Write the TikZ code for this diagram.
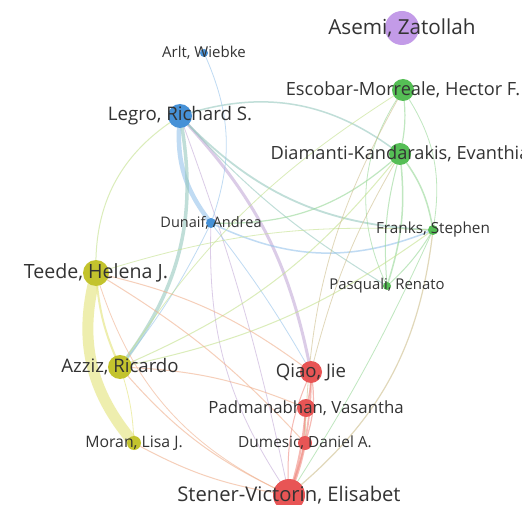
\documentclass[tikz,border=0pt]{standalone}
\usepackage{fontspec}
\setmainfont{Open Sans}
\begin{document}
\begin{tikzpicture}[x=1pt,y=-1pt,
  author/.style={circle,inner sep=0pt,draw=none},
  lbl/.style={text=black!80,inner sep=0pt,font=\fontsize{#1}{#1}\selectfont},
  link/.style={line width=#1,opacity=0.6,line cap=round},
  link/.default=1pt]
\definecolor{cblue}{RGB}{70,145,215}
\definecolor{cgreen}{RGB}{85,190,85}
\definecolor{colive}{RGB}{195,195,45}
\definecolor{cred}{RGB}{232,85,85}
\definecolor{cpurple}{RGB}{195,155,232}
\definecolor{eblue}{RGB}{150,195,235}
\definecolor{egreen}{RGB}{150,215,150}
\definecolor{eolive}{RGB}{228,228,120}
\definecolor{ered}{RGB}{240,140,130}
\definecolor{eorange}{RGB}{240,175,140}
\definecolor{elilac}{RGB}{195,170,215}
\definecolor{ebg}{RGB}{150,200,190}
\definecolor{eyg}{RGB}{195,225,140}
\definecolor{ebrown}{RGB}{205,190,140}

\useasboundingbox (0,0) rectangle (522,505);
\clip (0,0) rectangle (522,505);
\fill[white] (0,0) rectangle (522,505);

% author positions
\coordinate (pAsemi) at (402,28);
\coordinate (pArlt) at (204,53);
\coordinate (pEscobar) at (403,90);
\coordinate (pLegro) at (180,116);
\coordinate (pDiamanti) at (400,154);
\coordinate (pDunaif) at (211,223);
\coordinate (pFranks) at (433,230);
\coordinate (pTeede) at (96,273);
\coordinate (pPasquali) at (387,286);
\coordinate (pAzziz) at (120,367);
\coordinate (pQiao) at (311,372);
\coordinate (pPadma) at (306,408);
\coordinate (pMoran) at (134,443);
\coordinate (pDumesic) at (305,443);
\coordinate (pStener) at (289,495);

% co-authorship links
\draw[link=11pt,eolive] (pTeede) to[bend right=28] (pMoran);
\draw[link=4.5pt,eblue] (pLegro) to[bend right=22] (pDunaif);
\draw[link=3.5pt,ebg] (pLegro) to[bend left=24] (pAzziz);
\draw[link=3pt,elilac] (pLegro) to[bend left=16] (pQiao);
\draw[link=1.5pt,ebg] (pLegro) to[bend left=28] (pDiamanti);
\draw[link=1.8pt,ebg] (pLegro) to[bend right=22] (pFranks);
\draw[link=1pt,ebg] (pLegro) to[bend right=8] (pPasquali);
\draw[link=1pt,eyg] (pLegro) to[bend right=30] (pTeede);
\draw[link=0.8pt,elilac] (pLegro) to[bend left=4] (pStener);
\draw[link=0.8pt,eblue] (pArlt) to[bend left=22] (pDunaif);
\draw[link=1.5pt,eblue] (pDunaif) to[bend right=24] (pFranks);
\draw[link=1.2pt,egreen] (pDiamanti) to[bend left=22] (pDunaif);
\draw[link=0.8pt,elilac] (pDunaif) to[bend right=18] (pStener);
\draw[link=0.8pt,eblue] (pDunaif) to[bend left=6] (pAzziz);
\draw[link=0.8pt,eblue] (pDunaif) to[bend left=4] (pQiao);
\draw[link=1.2pt,egreen] (pEscobar) to[bend left=10] (pDiamanti);
\draw[link=0.8pt,egreen] (pEscobar) to[bend right=30] (pPasquali);
\draw[link=0.8pt,egreen] (pEscobar) to[bend left=22] (pFranks);
\draw[link=1.5pt,egreen] (pDiamanti) to[bend left=14] (pFranks);
\draw[link=1.5pt,egreen] (pDiamanti) to[bend left=12] (pPasquali);
\draw[link=1pt,egreen] (pDiamanti) to[bend right=10] (pPasquali);
\draw[link=1pt,egreen] (pFranks) to[bend left=8] (pPasquali);
\draw[link=1pt,eyg] (pDiamanti) to[bend left=14] (pAzziz);
\draw[link=0.8pt,eyg] (pEscobar) to[bend right=12] (pAzziz);
\draw[link=1pt,eyg] (pFranks) to[bend left=12] (pAzziz);
\draw[link=0.8pt,eyg] (pFranks) to[bend right=10] (pTeede);
\draw[link=2pt,eolive] (pTeede) to[bend right=10] (pAzziz);
\draw[link=0.8pt,eolive] (pAzziz) to[bend left=8] (pMoran);
\draw[link=1pt,eorange] (pTeede) to[bend left=12] (pQiao);
\draw[link=1pt,eorange] (pTeede) to[bend left=8] (pDumesic);
\draw[link=1pt,eorange] (pAzziz) to[bend left=10] (pPadma);
\draw[link=1pt,eorange] (pAzziz) to[bend right=12] (pStener);
\draw[link=1pt,eorange] (pMoran) to[bend right=10] (pStener);
\draw[link=0.8pt,eorange] (pTeede) to[bend right=24] (pStener);
\draw[link=1.5pt,ered] (pQiao) to[bend left=8] (pPadma);
\draw[link=1.2pt,ered] (pQiao) to[bend left=14] (pDumesic);
\draw[link=1.8pt,ered] (pQiao) to[bend left=10] (pStener);
\draw[link=1.2pt,ered] (pPadma) to[bend right=6] (pDumesic);
\draw[link=2pt,ered] (pPadma) to[bend left=6] (pStener);
\draw[link=2.5pt,ered] (pDumesic) to[bend left=6] (pStener);
\draw[link=1pt,ered] (pQiao) to[bend right=14] (pStener);
\draw[link=1.2pt,ebrown] (pStener) to[bend right=22] (pFranks);
\draw[link=0.8pt,egreen] (pFranks) to[bend left=4] (pStener);
\draw[link=0.8pt,ebrown] (pDiamanti) to[bend right=8] (pQiao);
\draw[link=0.8pt,ebrown] (pEscobar) to[bend right=14] (pDumesic);

% authors
\node[author,fill=cpurple,minimum size=34pt] (asemi) at (pAsemi) {};
\node[author,fill=cblue,minimum size=8pt] (arlt) at (pArlt) {};
\node[author,fill=cgreen,minimum size=22pt] (escobar) at (pEscobar) {};
\node[author,fill=cblue,minimum size=24pt] (legro) at (pLegro) {};
\node[author,fill=cgreen,minimum size=22pt] (diamanti) at (pDiamanti) {};
\node[author,fill=cblue,minimum size=10pt] (dunaif) at (pDunaif) {};
\node[author,fill=cgreen,minimum size=10pt] (franks) at (pFranks) {};
\node[author,fill=colive,minimum size=26pt] (teede) at (pTeede) {};
\node[author,fill=cgreen,minimum size=8pt] (pasquali) at (pPasquali) {};
\node[author,fill=colive,minimum size=24pt] (azziz) at (pAzziz) {};
\node[author,fill=cred,minimum size=22pt] (qiao) at (pQiao) {};
\node[author,fill=cred,minimum size=18pt] (padma) at (pPadma) {};
\node[author,fill=colive,minimum size=14pt] (moran) at (pMoran) {};
\node[author,fill=cred,minimum size=14pt] (dumesic) at (pDumesic) {};
\node[author,fill=cred,minimum size=32pt] (stener) at (pStener) {};

% names
\node[lbl=20.7] (tAsemi) at (pAsemi) {Asemi, Zatollah};
\node[lbl=15] (tArlt) at (pArlt) {Arlt, Wiebke};
\node[lbl=18.2] (tEscobar) at (pEscobar) {Escobar-Morreale, Hector F.};
\node[lbl=18.7] (tLegro) at (pLegro) {Legro, Richard S.};
\node[lbl=18.2] (tDiamanti) at (pDiamanti) {Diamanti-Kandarakis, Evanthia};
\node[lbl=14.5] (tDunaif) at (pDunaif) {Dunaif, Andrea};
\node[lbl=15.3] (tFranks) at (pFranks) {Franks, Stephen};
\node[lbl=19.6] (tTeede) at (pTeede) {Teede, Helena J.};
\node[lbl=14.9] (tPasquali) at (pPasquali) {Pasquali, Renato};
\node[lbl=18.6] (tAzziz) at (pAzziz) {Azziz, Ricardo};
\node[lbl=18.6] (tQiao) at (pQiao) {Qiao, Jie};
\node[lbl=16.8] (tPadma) at (pPadma) {Padmanabhan, Vasantha};
\node[lbl=15.8] (tMoran) at (pMoran) {Moran, Lisa J.};
\node[lbl=15.4] (tDumesic) at (pDumesic) {Dumesic, Daniel A.};
\node[lbl=20.2] (tStener) at (pStener) {Stener-Victorin, Elisabet};
\end{tikzpicture}
\end{document}
